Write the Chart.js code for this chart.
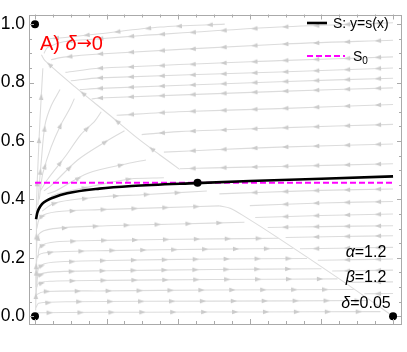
<!DOCTYPE html>
<html><head><meta charset="utf-8">
<script src="https://cdn.jsdelivr.net/npm/chart.js@4/dist/chart.umd.min.js"></script>
<style>html,body{margin:0;padding:0;background:#fff}#wrap{width:407px;height:352px}</style>
</head><body><div id="wrap"><canvas id="c" width="407" height="352"></canvas></div>
<script>
// ---------- data ----------
const sCurveX = [0.003,0.006,0.01,0.02,0.035,0.05,0.09,0.18,0.27,0.45,0.6,0.8,1.0];
const sCurveY = [0.332,0.352,0.366,0.385,0.398,0.406,0.421,0.437,0.446,0.456,0.463,0.471,0.479];
const s0Value = 0.457;
const s0X = [0, 1];
const fixedPointsX = [0, 0, 1, 0.454];
const fixedPointsY = [0, 1, 0, 0.457];
const yTickValues = [0, 0.2, 0.4, 0.6, 0.8, 1.0];
const minorTickStep = 0.05;
const paramLabels = [["α","=1.2"],["β","=1.2"],["δ","=0.05"]];

// stream lines (direction of flow = order of points)
const streamsRight = [
  [[0.004,0.004],[0.006,0.012],[0.3,0.014],[0.6,0.015],[0.965,0.016]],
  [[0.003,0.03],[0.01,0.045],[0.1,0.05],[0.5,0.052],[0.93,0.054]],
  [[0.002,0.06],[0.006,0.075],[0.03,0.085],[0.2,0.087],[0.5,0.09],[0.89,0.092]],
  [[0.003,0.075],[0.008,0.11],[0.04,0.12],[0.2,0.123],[0.5,0.126],[0.845,0.128]],
  [[0.005,0.1],[0.01,0.14],[0.05,0.152],[0.2,0.156],[0.5,0.16],[0.8,0.163]],
  [[0.006,0.13],[0.012,0.17],[0.05,0.185],[0.2,0.191],[0.5,0.196],[0.76,0.198]],
  [[0.003,0.1],[0.004,0.18],[0.01,0.21],[0.05,0.22],[0.2,0.225],[0.5,0.23],[0.72,0.232]],
  [[0.008,0.2],[0.015,0.24],[0.06,0.255],[0.2,0.26],[0.5,0.265],[0.68,0.267]],
  [[0.004,0.22],[0.01,0.28],[0.05,0.3],[0.2,0.31],[0.4,0.316],[0.585,0.322]],
  [[0.005,0.3],[0.015,0.34],[0.06,0.358],[0.18,0.365],[0.36,0.372],[0.515,0.378]],
  [[0.02,0.36],[0.05,0.385],[0.1,0.398],[0.2,0.41],[0.3,0.416],[0.48,0.429]],
  [[0.002,0.02],[0.003,0.12],[0.004,0.24],[0.004,0.33]]
];
const streamsLeftLow = [
  [[1.0,0.436],[0.8,0.431],[0.62,0.424],[0.515,0.419]],
  [[1.0,0.393],[0.8,0.388],[0.6,0.379]],
  [[1.0,0.35],[0.8,0.345],[0.615,0.338]],
  [[1.0,0.31],[0.8,0.307],[0.65,0.304]],
  [[1.0,0.276],[0.85,0.273],[0.7,0.27]],
  [[1.0,0.236],[0.85,0.233],[0.74,0.231]],
  [[1.0,0.196],[0.9,0.194],[0.79,0.192]],
  [[1.0,0.158],[0.83,0.155]],
  [[1.0,0.118],[0.875,0.116]],
  [[1.0,0.078],[0.92,0.077]]
];
const streamsLeftHigh = [
  [[0.53,1.0],[0.35,0.99],[0.18,0.967],[0.09,0.955],[0.04,0.95]],
  [[1.0,1.005],[0.682,0.99],[0.3,0.961],[0.18,0.95],[0.08,0.94],[0.035,0.92],[0.025,0.9]],
  [[1.0,0.945],[0.682,0.931],[0.18,0.898],[0.08,0.887],[0.045,0.878]],
  [[1.0,0.888],[0.682,0.875],[0.18,0.849],[0.085,0.835]],
  [[1.0,0.85],[0.682,0.836],[0.18,0.816],[0.1,0.806]],
  [[1.0,0.815],[0.682,0.803],[0.18,0.78],[0.125,0.776]],
  [[1.0,0.782],[0.682,0.77],[0.18,0.747],[0.158,0.744]],
  [[1.0,0.725],[0.682,0.711],[0.4,0.7],[0.228,0.688]],
  [[1.0,0.657],[0.682,0.645],[0.4,0.632],[0.298,0.622]],
  [[1.0,0.59],[0.682,0.579],[0.5,0.57],[0.36,0.562]],
  [[1.0,0.522],[0.682,0.513],[0.5,0.508],[0.405,0.505]]
];
const streamsFan = [
  [[0.003,0.34],[0.006,0.45],[0.008,0.51],[0.014,0.674],[0.022,0.849]],
  [[0.008,0.38],[0.012,0.45],[0.017,0.523],[0.028,0.655],[0.045,0.72],[0.07,0.776]],
  [[0.012,0.4],[0.016,0.44],[0.022,0.49],[0.045,0.579],[0.072,0.655],[0.097,0.71],[0.11,0.745]],
  [[0.015,0.43],[0.036,0.47],[0.084,0.546],[0.128,0.622],[0.167,0.668],[0.185,0.7]],
  [[0.025,0.43],[0.045,0.447],[0.12,0.536],[0.203,0.602],[0.25,0.635]],
  [[0.035,0.42],[0.056,0.428],[0.148,0.49],[0.259,0.523],[0.31,0.535]],
  [[0.045,0.41],[0.064,0.42],[0.167,0.447],[0.265,0.47],[0.36,0.474]],
  [[0.404,0.503],[0.348,0.553],[0.287,0.609],[0.209,0.688],[0.111,0.786],[0.028,0.875],[0.018,0.895]]
];
const streamsNoArrow = [
  [[0.515,0.378],[0.545,0.37],[0.585,0.342],[0.682,0.266],[0.85,0.128],[1.0,0.0]]
];

// ---------- axis ranges ----------
const X_MIN = -0.0167, X_MAX = 1.025, Y_MIN = -0.0263, Y_MAX = 1.033;
const PXU = 374 / (X_MAX - X_MIN), PYU = 322 / (Y_MAX - Y_MIN); // approx pixels per unit

const STREAM_COLOR = '#dcdcdc', ARROW_COLOR = '#cbcbcb';

// arrowhead image (points up)
const arrowImg = document.createElement('canvas');
arrowImg.width = 8; arrowImg.height = 8;
(function(){const g = arrowImg.getContext('2d'); g.fillStyle = ARROW_COLOR; g.beginPath();
  g.moveTo(4,0.8); g.lineTo(6.3,7); g.lineTo(1.7,7); g.closePath(); g.fill();})();

function arrowsFor(line, first, step){
  const out = []; let acc = 0; let next = first;
  let total = 0;
  for (let i=1;i<line.length;i++){const dx=(line[i][0]-line[i-1][0])*PXU, dy=(line[i][1]-line[i-1][1])*PYU; total+=Math.hypot(dx,dy);}
  for (let i=1;i<line.length;i++){
    const [x0,y0]=line[i-1],[x1,y1]=line[i];
    const dx=(x1-x0)*PXU, dy=(y1-y0)*PYU, L=Math.hypot(dx,dy);
    while (next <= acc+L && next < total-5){
      const t=(next-acc)/L;
      out.push({x:x0+(x1-x0)*t, y:y0+(y1-y0)*t, rot:Math.atan2(dx,dy)*180/Math.PI});
      next += step;
    }
    acc += L;
  }
  return out;
}

const datasets = [];
datasets.push({label:'points', data:fixedPointsX.map((x,i)=>({x, y:fixedPointsY[i]})),
  showLine:false, pointRadius:4, pointBackgroundColor:'#000', pointBorderWidth:0, order:0});
datasets.push({label:'S: y=s(x)', data:sCurveX.map((x,i)=>({x, y:sCurveY[i]})),
  showLine:true, borderColor:'#000', borderWidth:2.6, pointRadius:0, cubicInterpolationMode:'monotone', order:1});
datasets.push({label:'S0', data:s0X.map(x=>({x, y:s0Value})),
  showLine:true, borderColor:'#ff00ff', borderWidth:2, borderDash:[6,3], pointRadius:0, order:2});

const allArrows = [];
[...streamsRight, ...streamsLeftLow, ...streamsLeftHigh].forEach(l => allArrows.push(...arrowsFor(l, 15, 31)));
streamsFan.forEach(l => allArrows.push(...arrowsFor(l, 35, 45)));
datasets.push({label:'arrows', data:allArrows, showLine:false, pointStyle:arrowImg,
  rotation:(ctx)=> ctx.raw ? ctx.raw.rot : 0, pointRadius:4, order:3});
[...streamsRight, ...streamsLeftLow, ...streamsLeftHigh, ...streamsFan, ...streamsNoArrow].forEach((l,i)=>{
  datasets.push({label:'stream'+i, data:l.map(p=>({x:p[0], y:p[1]})), showLine:true,
    borderColor:STREAM_COLOR, borderWidth:1.1, pointRadius:0, tension:0.3, order:4});
});

function drawRuns(ctx, runs, x, y, align){
  let w = 0; runs.forEach(r=>{ctx.font=r.font; r.w=ctx.measureText(r.t).width; w+=r.w;});
  let cx = align==='center' ? x - w/2 : (align==='right' ? x - w : x);
  ctx.textAlign='left'; ctx.textBaseline='alphabetic';
  runs.forEach(r=>{ctx.font=r.font; ctx.fillStyle=r.color; ctx.fillText(r.t, cx, y+(r.dy||0)); cx+=r.w;});
}

const FONT = "'Liberation Sans', Arial, sans-serif";
const decor = {
  id:'decor',
  afterDraw(chart){
    const ctx = chart.ctx, a = chart.chartArea, xs = chart.scales.x, ys = chart.scales.y;
    ctx.save();
    ctx.strokeStyle = '#aaaaaa'; ctx.lineWidth = 1;
    ctx.strokeRect(Math.round(a.left)+0.5, Math.round(a.top)+0.5, Math.round(a.right-a.left)-1, Math.round(a.bottom-a.top)-1);
    ctx.beginPath();
    for (let k=0;k<=20;k++){
      const v = k*minorTickStep, major = (k%4===0), len = major?5:3;
      const py = Math.round(ys.getPixelForValue(v))+0.5;
      ctx.moveTo(a.left, py); ctx.lineTo(a.left+len, py);
      ctx.moveTo(a.right, py); ctx.lineTo(a.right-len, py);
      const px = Math.round(xs.getPixelForValue(v))+0.5;
      ctx.moveTo(px, a.bottom); ctx.lineTo(px, a.bottom-len);
      ctx.moveTo(px, a.top); ctx.lineTo(px, a.top+len);
    }
    ctx.stroke();
    drawRuns(ctx, [
      {t:'A) ', font:`20px ${FONT}`, color:'#ff0000'},
      {t:'δ', font:`italic 20px ${FONT}`, color:'#ff0000'},
      {t:'→', font:`18px 'DejaVu Sans', sans-serif`, color:'#ff0000', dy:-1},
      {t:'0', font:`20px ${FONT}`, color:'#ff0000'}], 40, 50, 'left');
    ctx.lineWidth = 2.6; ctx.strokeStyle = '#000'; ctx.setLineDash([]);
    ctx.beginPath(); ctx.moveTo(307, 23); ctx.lineTo(327, 23); ctx.stroke();
    drawRuns(ctx, [{t:'S: y=s(x)', font:`14px ${FONT}`, color:'#000'}], 333, 28, 'left');
    ctx.lineWidth = 2; ctx.strokeStyle = '#ff00ff'; ctx.setLineDash([6,3]);
    ctx.beginPath(); ctx.moveTo(307, 56); ctx.lineTo(345, 56); ctx.stroke();
    ctx.setLineDash([]);
    drawRuns(ctx, [{t:'S', font:`14px ${FONT}`, color:'#000'},
                   {t:'0', font:`10px ${FONT}`, color:'#000', dy:3}], 353, 61, 'left');
    const base = [257, 282, 308];
    paramLabels.forEach((p,i)=>{
      drawRuns(ctx, [{t:p[0], font:`italic 16px ${FONT}`, color:'#000'},
                     {t:p[1], font:`16px ${FONT}`, color:'#000'}], 366, base[i], 'center');
    });
    ctx.restore();
  }
};

new Chart(document.getElementById('c'), {
  type:'scatter',
  data:{datasets},
  options:{
    responsive:false, animation:false, devicePixelRatio:1,
    layout:{padding:{top:2, right:4, bottom:28, left:0}},
    plugins:{legend:{display:false}, tooltip:{enabled:false}},
    scales:{
      x:{type:'linear', min:X_MIN, max:X_MAX, display:false},
      y:{type:'linear', min:Y_MIN, max:Y_MAX,
        grid:{display:false, drawTicks:false}, border:{display:false},
        afterBuildTicks:(s)=>{ s.ticks = yTickValues.map(v=>({value:v})); },
        afterFit:(s)=>{ s.width = 29; },
        ticks:{padding:4, color:'#000', font:{size:17.5, family:"'Liberation Sans', Arial, sans-serif"},
          callback:(v)=> Number(v).toFixed(1)}
      }
    }
  },
  plugins:[decor]
});
</script>
</body></html>
